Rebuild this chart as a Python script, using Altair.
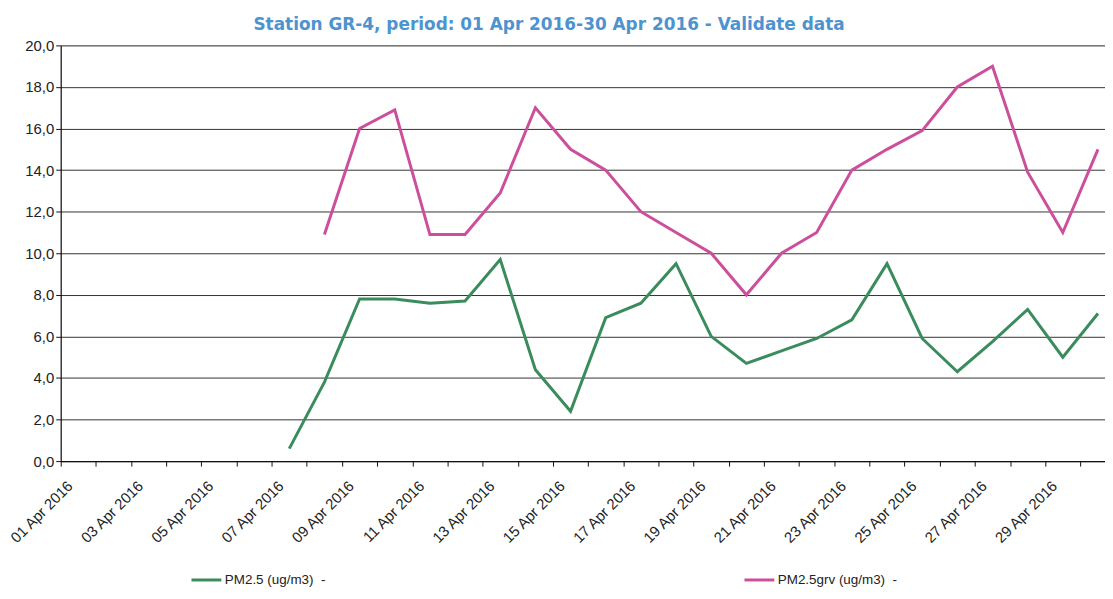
import altair as alt
import pandas as pd

# ---- data ----
series_names = ["PM2.5 (ug/m3)", "PM2.5grv (ug/m3)"]
series_colors = ["#3a8c5c", "#cc4f9c"]

pm25_days = [7, 8, 9, 10, 11, 12, 13, 14, 15, 16, 17, 18, 19, 20, 21, 22, 23, 24, 25, 26, 27, 28, 29, 30]
pm25_values = [0.6, 3.8, 7.8, 7.8, 7.6, 7.7, 9.7, 4.4, 2.4, 6.9, 7.6, 9.5, 6.0, 4.7,
               5.3, 5.9, 6.8, 9.5, 5.9, 4.3, 5.75, 7.3, 5.0, 7.1]

grv_days = [8, 9, 10, 11, 12, 13, 14, 15, 16, 17, 18, 19, 20, 21, 22, 23, 24, 25, 26, 27, 28, 29, 30]
grv_values = [10.9, 16.0, 16.9, 10.9, 10.9, 12.9, 17.0, 15.0, 14.0, 12.0, 11.0, 10.0,
              8.0, 10.0, 11.0, 14.0, 15.0, 15.9, 18.0, 19.0, 13.9, 11.0, 15.0]

y_ticks = [0, 2, 4, 6, 8, 10, 12, 14, 16, 18, 20]
day_boundaries = [0.5 + i for i in range(30)]

title_text = "Station GR-4, period: 01 Apr 2016-30 Apr 2016 - Validate data"

rows = []
for d, v in zip(pm25_days, pm25_values):
    rows.append({"day": d, "value": v, "series": series_names[0]})
for d, v in zip(grv_days, grv_values):
    rows.append({"day": d, "value": v, "series": series_names[1]})
df = pd.DataFrame(rows)

label_expr = (
    "(datum.value + 0.5) % 2 == 1 ? "
    "(((datum.value + 0.5) < 10) ? '0' : '') + (datum.value + 0.5) + ' Apr 2016' : ''"
)

x_enc = alt.X(
    "day:Q",
    scale=alt.Scale(domain=[0.5, 30.2], nice=False, zero=False),
    axis=alt.Axis(
        values=day_boundaries,
        title=None,
        grid=False,
        labelExpr=label_expr,
        labelAngle=-45,
        labelAlign="right",
        labelBaseline="middle",
        labelOffset=9,
        labelPadding=17,
        labelOverlap=False,
        labelFont="Liberation Sans",
        labelFontSize=15,
        labelColor="#222222",
        tickSize=5,
        tickColor="#111111",
        domainColor="#111111",
        domainWidth=1.2,
    ),
)

y_enc = alt.Y(
    "value:Q",
    scale=alt.Scale(domain=[0, 20], nice=False),
    axis=alt.Axis(
        values=y_ticks,
        title=None,
        grid=True,
        gridColor="#333333",
        gridWidth=1,
        labelExpr="replace(format(datum.value, '.1f'), '.', ',')",
        labelFont="Liberation Sans",
        labelFontSize=15,
        labelColor="#222222",
        labelPadding=2,
        tickSize=5,
        tickColor="#111111",
        domainColor="#111111",
        domainWidth=1.2,
    ),
)

color_enc = alt.Color(
    "series:N",
    scale=alt.Scale(domain=series_names, range=series_colors),
    legend=alt.Legend(
        orient="none",
        legendX=130,
        legendY=521,
        direction="horizontal",
        title=None,
        symbolType="stroke",
        symbolSize=900,
        symbolStrokeWidth=3,
        labelFont="Liberation Sans",
        labelFontSize=13.5,
        labelColor="#222222",
        labelOffset=2,
        columnPadding=414,
        labelExpr="datum.label + '\u00a0 -'",
    ),
)

chart = (
    alt.Chart(df)
    .mark_line(strokeWidth=3)
    .encode(x=x_enc, y=y_enc, color=color_enc, detail="series:N")
    .properties(
        width=1050,
        height=418,
        title=alt.TitleParams(
            text=title_text,
            font="DejaVu Sans",
            fontSize=17,
            fontWeight="bold",
            color="#4d93cf",
            anchor="middle",
            frame="group",
            dx=-34,
            offset=4,
        ),
        autosize=alt.AutoSizeParams(type="none"),
        padding={"left": 53, "top": 36, "right": 0, "bottom": 130},
    )
    .configure_view(stroke=None)
    .configure(background="white")
)

chart.save("out.html", embed_options={"renderer": "svg", "actions": False})
